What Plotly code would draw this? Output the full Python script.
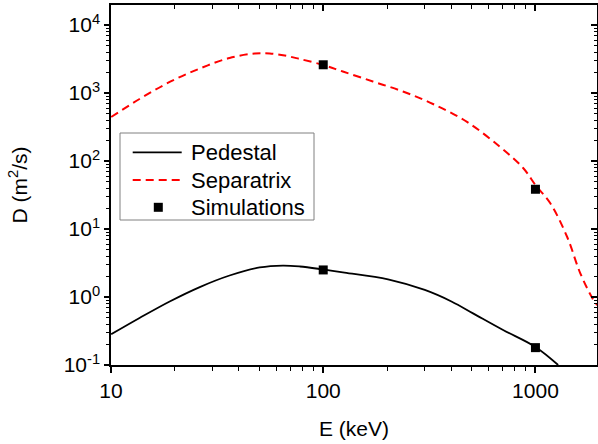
import plotly.graph_objects as go

# Pedestal curve (E in keV, D in m^2/s)
ped_E = [10.02, 13.63, 18.9, 26.2, 36.2, 50.2, 64.5, 77.6, 100, 126, 202, 301, 404, 508, 704, 1000, 1279]
ped_D = [0.283, 0.491, 0.859, 1.40, 2.07, 2.72, 2.90, 2.81, 2.54, 2.29, 1.82, 1.27, 0.853, 0.575, 0.327, 0.184, 0.10]

# Separatrix curve
sep_E = [10.02, 13.63, 18.9, 26.2, 36.2, 47.6, 56, 65.9, 77.6, 100, 123.7, 171.4, 237.5, 329, 476, 681, 875, 1007, 1173, 1411, 1625, 1852, 1954]
sep_D = [444, 816, 1452, 2290, 3275, 3811, 3811, 3556, 3162, 2581, 2070, 1476, 1052, 689, 375, 161, 78.9, 43, 24.1, 7.62, 2.25, 0.97, 0.76]

# Simulation points
sim_E = [100, 1000, 100, 1000]
sim_D = [2600, 38.4, 2.5, 0.18]

legend_names = ["Pedestal", "Separatrix", "Simulations"]

x_range = [1, 3.29]
y_range = [-1, 4.294]
y_major = [0.1, 1, 10, 100, 1000, 10000]
y_major_text = ["10<sup>-1</sup>", "10<sup>0</sup>", "10<sup>1</sup>", "10<sup>2</sup>", "10<sup>3</sup>", "10<sup>4</sup>"]
x_major = [10, 100, 1000]
x_major_text = ["10", "100", "1000"]

y_minor = [k * 10.0 ** d for d in range(-1, 5) for k in range(2, 10) if k * 10.0 ** d < 10 ** y_range[1]]
x_minor = [k * 10.0 ** d for d in range(1, 4) for k in range(2, 10) if k * 10.0 ** d < 10 ** x_range[1]]

FONT = "Liberation Sans, Arial, sans-serif"
RED = "#ff0000"
RED_DASH = "8px,5px"

fig = go.Figure()
fig.add_trace(go.Scatter(x=ped_E, y=ped_D, mode="lines", name=legend_names[0],
                         line=dict(color="black", width=1.8, shape="spline")))
fig.add_trace(go.Scatter(x=sep_E, y=sep_D, mode="lines", name=legend_names[1],
                         line=dict(color=RED, width=2, dash=RED_DASH, shape="spline")))
fig.add_trace(go.Scatter(x=sim_E, y=sim_D, mode="markers", name=legend_names[2],
                         marker=dict(symbol="square", color="black", size=9)))
# invisible helper trace so the mirrored (top/right) tick axes are drawn
fig.add_trace(go.Scatter(x=[1], y=[0.001], xaxis="x2", yaxis="y2", mode="markers",
                         marker=dict(opacity=0), showlegend=False, hoverinfo="skip"))

# ---- legend box drawn in paper coordinates (Origin-style) ----
L, R, T, B = 111, 597, 5, 365  # plot area in pixels
W, H = R - L, B - T
def px(x):
    return (x - L) / W
def py(y):
    return (B - y) / H

shapes = [
    dict(type="rect", xref="paper", yref="paper", x0=px(120), x1=px(314), y0=py(220), y1=py(133),
         line=dict(color="#808080", width=1), fillcolor="white", layer="above"),
    dict(type="line", xref="paper", yref="paper", x0=px(132.7), x1=px(181.7), y0=py(152.3), y1=py(152.3),
         line=dict(color="black", width=1.8), layer="above"),
    dict(type="line", xref="paper", yref="paper", x0=px(132.7), x1=px(181.7), y0=py(180), y1=py(180),
         line=dict(color=RED, width=2, dash=RED_DASH), layer="above"),
    dict(type="rect", xref="paper", yref="paper", x0=px(153.8), x1=px(162.8), y0=py(211.8), y1=py(202.8),
         line=dict(width=0), fillcolor="black", layer="above"),
]
annotations = [
    dict(xref="paper", yref="paper", x=px(189), y=py(yy), text=name, showarrow=False,
         xanchor="left", yanchor="middle", font=dict(size=22, family=FONT, color="black"))
    for name, yy in zip(legend_names, [152.3, 180, 207.3])
]

fig.update_layout(
    width=598, height=444,
    margin=dict(l=L, r=598 - R, t=T, b=444 - B),
    paper_bgcolor="white", plot_bgcolor="white",
    font=dict(family=FONT, size=21, color="black"),
    showlegend=False,
    shapes=shapes, annotations=annotations,
    xaxis=dict(type="log", range=x_range, showgrid=False, zeroline=False, automargin=False,
               showline=True, mirror=True, linecolor="black", linewidth=1.5,
               tickmode="array", tickvals=x_major, ticktext=x_major_text,
               ticks="outside", ticklen=6, tickwidth=1.5, tickcolor="black",
               minor=dict(tickmode="array", tickvals=x_minor, ticks="outside", ticklen=4, tickwidth=1.2, tickcolor="black", showgrid=False),
               title=dict(text="E (keV)", font=dict(size=21), standoff=20),
               tickfont=dict(size=21)),
    yaxis=dict(type="log", range=y_range, showgrid=False, zeroline=False, automargin=False,
               showline=True, mirror=True, linecolor="black", linewidth=1.5,
               tickmode="array", tickvals=y_major, ticktext=y_major_text,
               ticks="outside", ticklen=5, tickwidth=1.5, tickcolor="black",
               minor=dict(tickmode="array", tickvals=y_minor, ticks="outside", ticklen=3, tickwidth=1.2, tickcolor="black", showgrid=False),
               title=dict(text="D (m<sup>2</sup>/s)", font=dict(size=21), standoff=30),
               tickfont=dict(size=21)),
    xaxis2=dict(type="log", range=x_range, overlaying="x", side="top", anchor="y2", automargin=False,
                showgrid=False, zeroline=False, showline=True, linecolor="black", linewidth=1.5,
                tickmode="array", tickvals=x_major, showticklabels=False,
                ticks="inside", ticklen=6, tickwidth=1.5, tickcolor="black",
                minor=dict(tickmode="array", tickvals=x_minor, ticks="inside", ticklen=4, tickwidth=1.2, tickcolor="black", showgrid=False)),
    yaxis2=dict(type="log", range=y_range, overlaying="y", side="right", anchor="x2", automargin=False,
                showgrid=False, zeroline=False, showline=True, linecolor="black", linewidth=1.5,
                tickmode="array", tickvals=y_major, showticklabels=False,
                ticks="inside", ticklen=6, tickwidth=1.5, tickcolor="black",
                minor=dict(tickmode="array", tickvals=y_minor, ticks="inside", ticklen=3, tickwidth=1.2, tickcolor="black", showgrid=False)),
)

fig.write_html("out.html", config={"displayModeBar": False},
               post_script="document.body.style.margin='0';document.body.style.overflow='hidden';")
